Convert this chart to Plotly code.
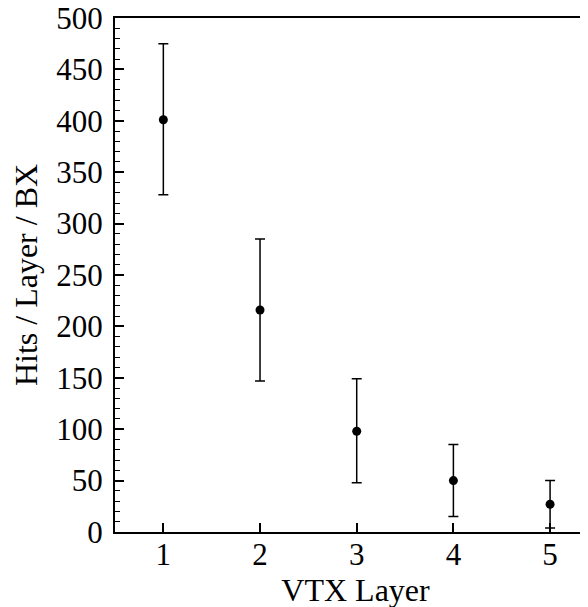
import plotly.graph_objects as go

layers = [1, 2, 3, 4, 5]
hits = [401, 216, 98, 50, 27]
err_plus = [74, 69, 51, 35, 23]
err_minus = [73, 69, 50, 35, 23]

fig = go.Figure()
fig.add_trace(go.Scatter(
    x=layers, y=hits, mode="markers",
    marker=dict(color="black", size=9),
    error_y=dict(type="data", symmetric=False, array=err_plus, arrayminus=err_minus,
                 color="black", thickness=1.5, width=5),
    showlegend=False,
))

font = dict(family="Liberation Serif, Times New Roman, serif", size=31, color="black")
title_font = dict(family="Liberation Serif, Times New Roman, serif", size=32, color="black")
fig.update_layout(
    width=588, height=607,
    margin=dict(l=107, r=0, t=10, b=83),
    paper_bgcolor="white", plot_bgcolor="white",
    font=font,
    xaxis=dict(range=[0.5, 5.475], tickvals=layers, ticks="inside", ticklen=9,
               tickwidth=1.5, tickcolor="black", showline=True, linecolor="black",
               linewidth=2, mirror=True, showgrid=False, zeroline=False,
               automargin=False, tickfont=font, ticklabelstandoff=-6,
               ticklabeloverflow="allow",
               title=dict(text="VTX Layer", font=title_font, standoff=6)),
    yaxis=dict(range=[0, 500], tickvals=list(range(0, 501, 50)), ticks="inside",
               ticklen=9, tickwidth=1.5, tickcolor="black", showline=True,
               linecolor="black", linewidth=2, showgrid=False, zeroline=False,
               automargin=False, tickfont=font, ticklabelstandoff=4,
               ticklabeloverflow="allow",
               minor=dict(dtick=10, ticks="inside", ticklen=5, tickwidth=1, tickcolor="black"),
               title=dict(text="Hits / Layer / BX", font=title_font, standoff=16)),
)
fig.write_html("out.html")
